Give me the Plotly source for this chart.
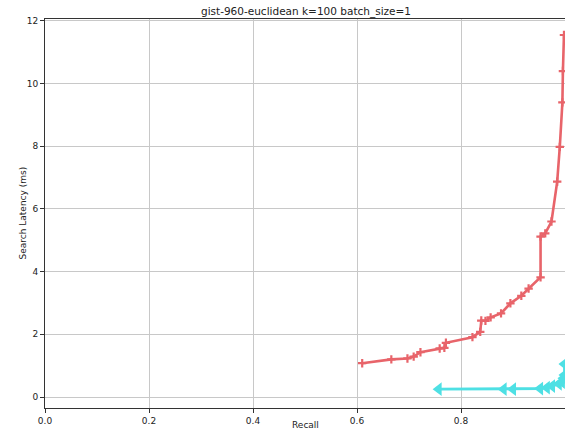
import plotly.graph_objects as go

# Recall / latency pairs for each index configuration
red_recall = [0.610, 0.666, 0.697, 0.709, 0.722, 0.759, 0.768, 0.771, 0.822, 0.837,
              0.839, 0.847, 0.857, 0.877, 0.895, 0.916, 0.930, 0.953, 0.953, 0.962,
              0.974, 0.985, 0.990, 0.995, 0.996, 0.998]
red_latency = [1.08, 1.20, 1.23, 1.29, 1.43, 1.55, 1.57, 1.73, 1.91, 2.08,
               2.44, 2.43, 2.54, 2.67, 2.99, 3.23, 3.46, 3.82, 5.12, 5.22,
               5.60, 6.87, 7.98, 9.40, 10.40, 11.55]

cyan_recall = [0.757, 0.882, 0.900, 0.952, 0.965, 0.975, 0.988, 0.994, 0.997, 0.999, 0.999]
cyan_latency = [0.25, 0.25, 0.25, 0.27, 0.30, 0.35, 0.42, 0.48, 0.60, 0.70, 1.05]

x_ticks = [0.0, 0.2, 0.4, 0.6, 0.8, 1.0]
x_tick_text = ["0.0", "0.2", "0.4", "0.6", "0.8", "1"]
y_ticks = [0, 2, 4, 6, 8, 10, 12]

RED = "#e8646a"
CYAN = "#4ee0e4"
FONT = "DejaVu Sans"

fig = go.Figure()
fig.add_trace(go.Scatter(
    x=red_recall, y=red_latency, mode="lines+markers",
    line=dict(color=RED, width=2.6),
    marker=dict(symbol="cross-thin", size=6, line=dict(color=RED, width=2.2)),
    showlegend=False,
))
fig.add_trace(go.Scatter(
    x=cyan_recall, y=cyan_latency, mode="lines+markers",
    line=dict(color=CYAN, width=2.8),
    marker=dict(symbol="triangle-left", size=12, color=CYAN),
    showlegend=False,
))

axis_common = dict(
    showline=True, linecolor="#333333", linewidth=1, mirror=True,
    ticks="outside", ticklen=4, tickcolor="#333333", tickwidth=1,
    showgrid=True, gridcolor="#c8c8c8", gridwidth=1, zeroline=False,
    tickfont=dict(family=FONT, size=9, color="#222222"),
    automargin=False,
)

fig.update_layout(
    width=565, height=432,
    margin=dict(l=45, r=0, t=19, b=24),
    paper_bgcolor="white", plot_bgcolor="white",
    title=dict(text="gist-960-euclidean k=100 batch_size=1",
               font=dict(family=FONT, size=10.5, color="#222222"),
               x=306 / 565, xanchor="center", xref="container",
               y=1 - 11 / 432, yanchor="middle", yref="container"),
    xaxis=dict(range=[0, 1.0], tickvals=x_ticks, ticktext=x_tick_text, **axis_common),
    yaxis=dict(range=[-0.35, 12.06], tickvals=y_ticks, **axis_common),
    annotations=[
        dict(text="Recall", xref="paper", yref="paper", x=0.5, y=0,
             xanchor="center", yanchor="bottom", yshift=-24, showarrow=False,
             font=dict(family=FONT, size=9, color="#222222")),
        dict(text="Search Latency (ms)", xref="paper", yref="paper", x=0, y=0.5,
             xanchor="center", yanchor="middle", xshift=-23, textangle=-90,
             showarrow=False, font=dict(family=FONT, size=9, color="#222222")),
    ],
)

fig.write_html("out.html")
